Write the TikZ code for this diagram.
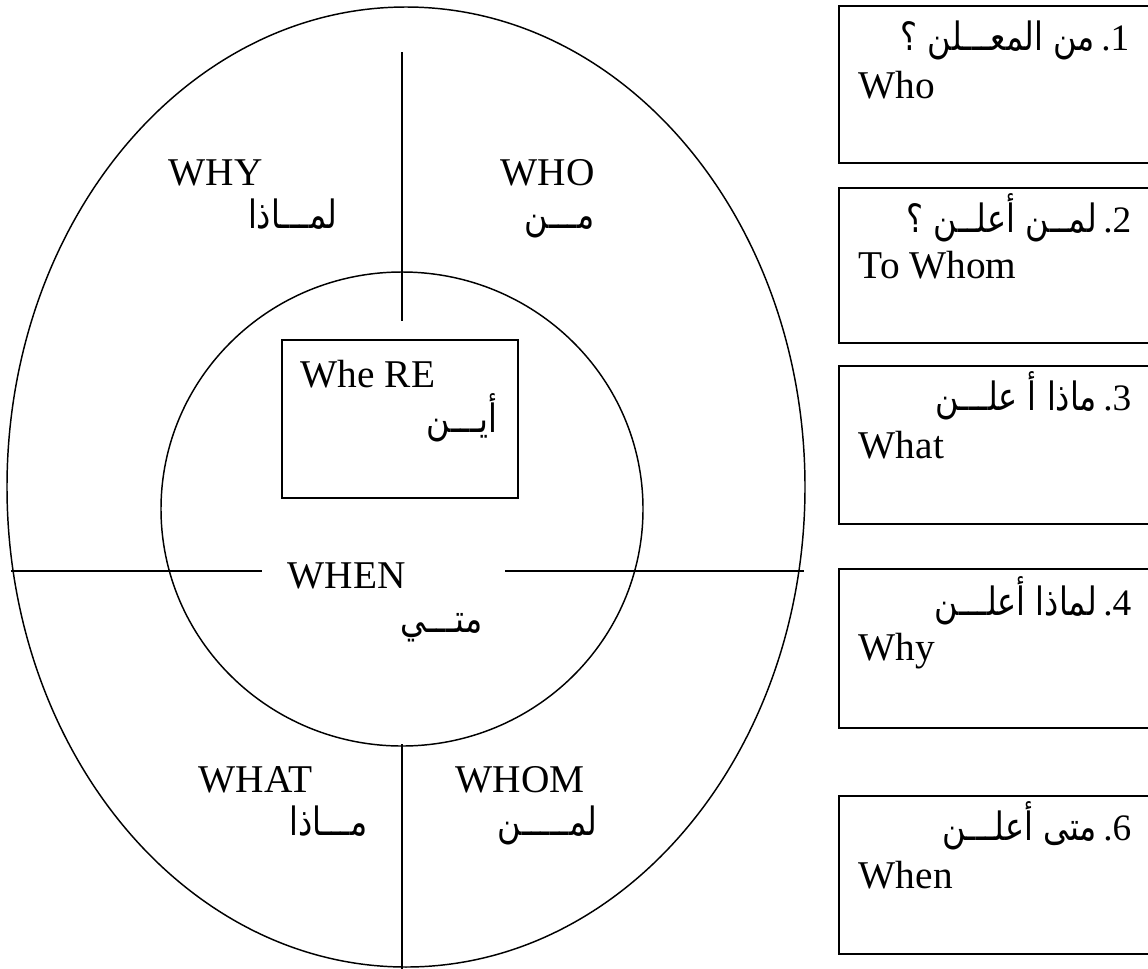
\documentclass[tikz,border=0pt]{standalone}
\usepackage{graphicx}
\usepackage{fontspec}
\setmainfont{Liberation Serif}
\newfontfamily\arabicfont[Script=Arabic]{DejaVu Sans}
\TeXXeTstate=1
% Arabic text, set right to left, a little taller than the sans default
\newcommand\artxt[1]{\scalebox{1}[1.22]{\arabicfont\fontsize{24}{28}\selectfont\beginR #1\endR}}
% list number in front of an Arabic line
\newcommand\arnum[1]{{\fontsize{28}{32}\selectfont\,#1}}

\begin{document}
\begin{tikzpicture}[x=0.75pt,y=-0.75pt,
  line width=1.1pt,
  entxt/.style={font=\fontsize{29.5}{34}\selectfont, inner sep=0pt, anchor=base west},
  artx/.style={inner sep=0pt, anchor=base east},
  panel/.style={draw, line width=1.4pt, anchor=north west, inner sep=0pt,
    minimum width=236pt, minimum height=#1},
  centerbox/.style={draw, line width=1.1pt, inner sep=0pt,
    minimum width=177pt, minimum height=118.5pt}]
\useasboundingbox (0,0) rectangle (1148,968);

% outer oval and inner circle
\draw (406,487) ellipse [x radius=299.25pt, y radius=360pt];
\draw (402,509) ellipse [x radius=180.75pt, y radius=177.75pt];

% quadrant dividers
\coordinate (vt1) at (402,52);
\coordinate (vt2) at (402,321);
\coordinate (vb1) at (402,744);
\coordinate (vb2) at (402,975);
\coordinate (hl1) at (11,571);
\coordinate (hl2) at (262,571);
\coordinate (hr1) at (505,571);
\coordinate (hr2) at (804,571);
\draw (vt1) -- (vt2);
\draw (vb1) -- (vb2);
\draw (hl1) -- (hl2);
\draw (hr1) -- (hr2);

% central box
\node[centerbox] (where) at (400,419) {};
\node[entxt] (whereEn) at (300,387) {Whe RE};
\node[artx] (whereAr) at (498,432) {\artxt{أيـــن}};

% quadrant labels
\node[entxt] (whyEn) at (168,185) {WHY};
\node[artx] (whyAr) at (338,228) {\artxt{لمـــاذا}};
\node[entxt] (whoEn) at (500,185) {WHO};
\node[artx] (whoAr) at (595,228) {\artxt{مـــن}};
\node[entxt] (whenEn) at (287,588) {WHEN};
\node[artx] (whenAr) at (483,632) {\artxt{متـــي}};
\node[entxt] (whatEn) at (198,792) {WHAT};
\node[artx] (whatAr) at (368,835) {\artxt{مـــاذا}};
\node[entxt] (whomEn) at (455,792) {WHOM};
\node[artx] (whomAr) at (598,835) {\artxt{لمـــــن}};

% question boxes on the right
\node[panel=117.75pt] (q1) at (838,5) {};
\node[artx] (q1ar) at (1130,50) {\artxt{من المعـــلن ؟}\arnum{.1}};
\node[entxt] (q1en) at (858,98) {Who};

\node[panel=116.25pt] (q2) at (838,187) {};
\node[artx] (q2ar) at (1132,232) {\artxt{لمــن أعلــن ؟}\arnum{.2}};
\node[entxt] (q2en) at (858,278) {To Whom};

\node[panel=118.5pt] (q3) at (838,365) {};
\node[artx] (q3ar) at (1132,410) {\artxt{ماذا أ علـــن}\arnum{.3}};
\node[entxt] (q3en) at (858,458) {What};

\node[panel=119.25pt] (q4) at (838,568) {};
\node[artx] (q4ar) at (1132,615) {\artxt{لماذا أعلـــن}\arnum{.4}};
\node[entxt] (q4en) at (858,660) {Why};

\node[panel=118.5pt] (q5) at (838,795) {};
\node[artx] (q5ar) at (1132,840) {\artxt{متى أعلـــن}\arnum{.6}};
\node[entxt] (q5en) at (858,888) {When};
\end{tikzpicture}
\end{document}
